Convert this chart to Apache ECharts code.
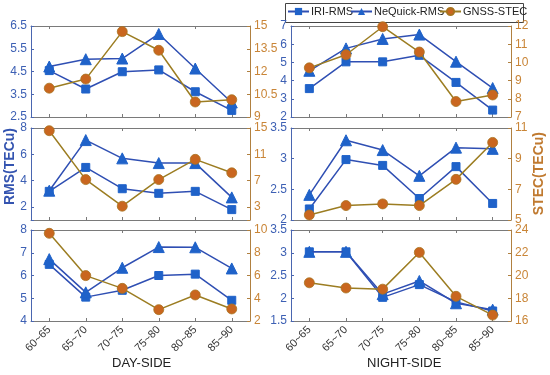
<!DOCTYPE html>
<html><head><meta charset="utf-8">
<script src="https://cdn.jsdelivr.net/npm/echarts@6/dist/echarts.min.js"></script>
<style>html,body{margin:0;padding:0;background:#fff}#c{width:550px;height:375px}</style>
</head><body><div id="c"></div>
<script>
// categories
const categories = ['60~65','65~70','70~75','75~80','80~85','85~90'];
const seriesNames = ['IRI-RMS','NeQuick-RMS','GNSS-STEC'];

// Day-side panels (top to bottom)
const day1IRI = [4.54,3.73,4.49,4.57,3.61,2.79];
const day1NeQ = [4.72,5.04,5.07,6.15,4.63,3.14];
const day1STEC = [10.9,11.5,14.63,13.4,9.99,10.14];
const day2IRI = [3.18,5.0,3.38,3.03,3.18,1.79];
const day2NeQ = [3.23,7.08,5.69,5.33,5.33,2.72];
const day2STEC = [14.59,7.15,3.1,7.15,10.23,8.18];
const day3IRI = [6.49,5.05,5.35,6.0,6.06,4.91];
const day3NeQ = [6.72,5.26,6.34,7.25,7.24,6.31];
const day3STEC = [9.71,5.99,4.87,3.0,4.29,3.06];

// Night-side panels (top to bottom)
const night1IRI = [3.56,5.03,5.03,5.39,3.90,2.38];
const night1NeQ = [4.54,5.77,6.29,6.53,5.04,3.59];
const night1STEC = [9.70,10.42,11.96,10.57,7.85,8.21];
const night2IRI = [2.18,2.985,2.89,2.35,2.87,2.27];
const night2NeQ = [2.41,3.30,3.14,2.72,3.18,3.16];
const night2STEC = [5.33,5.94,6.05,5.94,7.65,10.06];
const night3IRI = [3.02,3.02,2.02,2.30,1.92,1.72];
const night3NeQ = [3.02,3.02,2.09,2.38,1.89,1.75];
const night3STEC = [19.36,18.9,18.8,22.03,18.17,16.52];

// axis tick values
const day1LeftTicks = [2.5,3.5,4.5,5.5,6.5];
const day1RightTicks = [9,10.5,12,13.5,15];
const day2LeftTicks = [1,2,4,6,8];
const day2RightTicks = [1,3,7,11,15];
const day3LeftTicks = [4,5,6,7,8];
const day3RightTicks = [2,4,6,8,10];
const night1LeftTicks = [2,3,4,5,6,7];
const night1RightTicks = [7,8,9,10,11,12];
const night2LeftTicks = [2,2.5,3,3.5];
const night2RightTicks = [5,7,9,11];
const night3LeftTicks = [1.5,2,2.5,3,3.5];
const night3RightTicks = [16,18,20,22,24];

const panels = [
  {iri:day1IRI, neq:day1NeQ, stec:day1STEC, lt:day1LeftTicks, rt:day1RightTicks, col:0, row:0},
  {iri:day2IRI, neq:day2NeQ, stec:day2STEC, lt:day2LeftTicks, rt:day2RightTicks, col:0, row:1},
  {iri:day3IRI, neq:day3NeQ, stec:day3STEC, lt:day3LeftTicks, rt:day3RightTicks, col:0, row:2},
  {iri:night1IRI, neq:night1NeQ, stec:night1STEC, lt:night1LeftTicks, rt:night1RightTicks, col:1, row:0},
  {iri:night2IRI, neq:night2NeQ, stec:night2STEC, lt:night2LeftTicks, rt:night2RightTicks, col:1, row:1},
  {iri:night3IRI, neq:night3NeQ, stec:night3STEC, lt:night3LeftTicks, rt:night3RightTicks, col:1, row:2}
];

const FONT = 'Liberation Sans';
const BLUE_LINE = '#2f4fb3';
const BLUE_MARK = '#1f62c9';
const STEC_LINE = '#9c7d22';
const STEC_MARK = '#c9661f';
const LEFT_LBL = '#3d60b4';
const RIGHT_LBL = '#c98537';
const BOX = '#7a7a7a';

const tops = [26,128,230];
const heights = [91,92,91];
const lefts = [31,291];
const widths = [219,220];

const grid=[], xAxis=[], yAxis=[], series=[];
panels.forEach((p,i)=>{
  grid.push({left:lefts[p.col], top:tops[p.row], width:widths[p.col], height:heights[p.row], show:false, containLabel:false});
  const bottomRow = p.row===2;
  xAxis.push({type:'category', gridIndex:i, data:categories, boundaryGap:true, position:'bottom',
    axisLine:{show:true,lineStyle:{color:BOX,width:1}},
    axisTick:{show:true,inside:true,alignWithLabel:true,length:3,lineStyle:{color:BOX}},
    axisLabel:{show:bottomRow,rotate:45,color:'#333',fontSize:11,fontFamily:FONT,margin:7,interval:0},
    splitLine:{show:false}});
  xAxis.push({type:'category', gridIndex:i, data:categories, boundaryGap:true, position:'top',
    axisLine:{show:true,lineStyle:{color:BOX,width:1}},
    axisTick:{show:true,inside:true,alignWithLabel:true,length:3,lineStyle:{color:BOX}},
    axisLabel:{show:false}, splitLine:{show:false}});
  const lt=p.lt, rt=p.rt;
  const hideMin = (p.col===0 && p.row===1);
  yAxis.push({type:'value', gridIndex:i, position:'left', min:lt[0], max:lt[lt.length-1],
    axisLine:{show:true,lineStyle:{color:'#4a66b0',width:1}},
    axisTick:{show:true,inside:true,length:3,customValues:lt,lineStyle:{color:'#4a66b0'}},
    axisLabel:{color:LEFT_LBL,fontSize:12,fontFamily:FONT,margin:4,customValues:hideMin?lt.slice(1):lt},
    splitLine:{show:false}});
  yAxis.push({type:'value', gridIndex:i, position:'right', min:rt[0], max:rt[rt.length-1],
    axisLine:{show:true,lineStyle:{color:'#b08040',width:1}},
    axisTick:{show:true,inside:true,length:3,customValues:rt,lineStyle:{color:'#b08040'}},
    axisLabel:{color:RIGHT_LBL,fontSize:12,fontFamily:FONT,margin:4,customValues:hideMin?rt.slice(1):rt},
    splitLine:{show:false}});
  const xi=i*2, yl=i*2, yr=i*2+1;
  series.push({name:seriesNames[0], type:'line', xAxisIndex:xi, yAxisIndex:yl, data:p.iri,
    symbol:'rect', symbolSize:8, lineStyle:{color:BLUE_LINE,width:1.5},
    itemStyle:{color:BLUE_MARK,borderColor:BLUE_MARK}, z:3});
  series.push({name:seriesNames[1], type:'line', xAxisIndex:xi, yAxisIndex:yl, data:p.neq,
    symbol:'triangle', symbolSize:11, lineStyle:{color:BLUE_LINE,width:1.5},
    itemStyle:{color:BLUE_MARK,borderColor:BLUE_MARK}, z:4});
  series.push({name:seriesNames[2], type:'line', xAxisIndex:xi, yAxisIndex:yr, data:p.stec,
    symbol:'circle', symbolSize:10, lineStyle:{color:STEC_LINE,width:1.5},
    itemStyle:{color:STEC_MARK,borderColor:'#a8731f',borderWidth:0.8}, z:5});
});

const legendLefts = [287, 350, 439];
const legend = seriesNames.map((n,k)=>({data:[n], left:legendLefts[k], top:6, padding:0,
  itemWidth:21, itemHeight:9, selectedMode:false,
  textStyle:{fontSize:11,fontFamily:FONT,color:'#222',padding:[0,0,0,-3]}}));

const chart = echarts.init(document.getElementById('c'), null, {renderer:'canvas'});
chart.setOption({
  animation:false,
  backgroundColor:'#fff',
  grid, xAxis, yAxis, series, legend,
  graphic:[
    {type:'rect', shape:{x:285.5,y:3.5,width:238,height:19}, style:{fill:'#fff',stroke:'#444',lineWidth:1}, z:-1, silent:true},
    {type:'text', left:3, top:128, rotation:Math.PI/2, style:{text:'RMS(TECu)', font:'bold 14px "Liberation Sans"', fill:'#3454b0'}},
    {type:'text', left:532, top:132, rotation:Math.PI/2, style:{text:'STEC(TECu)', font:'bold 14px "Liberation Sans"', fill:'#c07a30'}},
    {type:'text', left:112, top:357, style:{text:'DAY-SIDE', font:'13px "Liberation Sans"', fill:'#222'}},
    {type:'text', left:367, top:357, style:{text:'NIGHT-SIDE', font:'13px "Liberation Sans"', fill:'#222'}}
  ]
});
</script></body></html>
